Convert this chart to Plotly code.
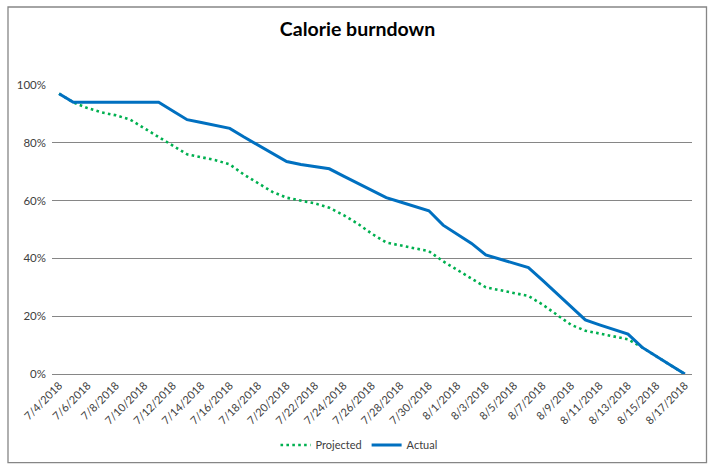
import plotly.graph_objects as go

dates = [
    "7/4/2018", "7/5/2018", "7/6/2018", "7/7/2018", "7/8/2018", "7/9/2018",
    "7/10/2018", "7/11/2018", "7/12/2018", "7/13/2018", "7/14/2018", "7/15/2018",
    "7/16/2018", "7/17/2018", "7/18/2018", "7/19/2018", "7/20/2018", "7/21/2018",
    "7/22/2018", "7/23/2018", "7/24/2018", "7/25/2018", "7/26/2018", "7/27/2018",
    "7/28/2018", "7/29/2018", "7/30/2018", "7/31/2018", "8/1/2018", "8/2/2018",
    "8/3/2018", "8/4/2018", "8/5/2018", "8/6/2018", "8/7/2018", "8/8/2018",
    "8/9/2018", "8/10/2018", "8/11/2018", "8/12/2018", "8/13/2018", "8/14/2018",
    "8/15/2018", "8/16/2018", "8/17/2018",
]

projected = [
    0.97, 0.94, 0.92, 0.905, 0.895, 0.88, 0.85, 0.82, 0.79, 0.76,
    0.75, 0.74, 0.725, 0.69, 0.66, 0.63, 0.61, 0.60, 0.59, 0.575,
    0.55, 0.52, 0.485, 0.455, 0.445, 0.435, 0.425, 0.39, 0.36, 0.33,
    0.30, 0.29, 0.28, 0.27, 0.24, 0.205, 0.17, 0.15, 0.14, 0.13,
    0.12, 0.092, 0.06, 0.03, 0.0,
]

actual = [
    0.97, 0.94, 0.94, 0.94, 0.94, 0.94, 0.94, 0.94, 0.91, 0.88,
    0.87, 0.86, 0.85, 0.82, 0.792, 0.763, 0.735, 0.725, 0.718, 0.71,
    0.685, 0.66, 0.635, 0.61, 0.595, 0.58, 0.565, 0.515, 0.483, 0.452,
    0.412, 0.397, 0.382, 0.368, 0.324, 0.278, 0.232, 0.187, 0.17, 0.155,
    0.138, 0.092, 0.06, 0.03, 0.0,
]

series_names = ["Projected", "Actual"]
tick_labels = dates[::2]

FONT = "Lato"

fig = go.Figure()
fig.add_trace(go.Scatter(
    x=dates, y=projected, name=series_names[0], mode="lines",
    line=dict(color="#00B050", width=2.6, dash="2.6px,3.3px"),
))
fig.add_trace(go.Scatter(
    x=dates, y=actual, name=series_names[1], mode="lines",
    line=dict(color="#0070C0", width=3),
))

fig.update_layout(
    width=720, height=474,
    margin=dict(l=52, r=28, t=85, b=100, autoexpand=False),
    paper_bgcolor="white", plot_bgcolor="white",
    font=dict(family=FONT, size=11, color="#595959"),
    title=dict(text="<b>Calorie burndown</b>", x=357.5 / 720, xref="container",
               xanchor="center", y=1 - 29 / 474, yref="container", yanchor="middle",
               font=dict(family=FONT, size=19.5, color="black")),
    xaxis=dict(
        type="category", range=[-0.5, len(dates) - 0.5],
        tickmode="array", tickvals=tick_labels, ticktext=tick_labels,
        tickangle=-45, showgrid=False, ticks="",
        showline=True, linecolor="#868686", linewidth=1,
        tickfont=dict(family=FONT, size=11, color="#404040"),
        fixedrange=True,
    ),
    yaxis=dict(
        range=[0, 1], tickvals=[0, 0.2, 0.4, 0.6, 0.8, 1.0], tickformat=".0%",
        showgrid=True, gridcolor="#868686", gridwidth=1, zeroline=False,
        showline=False, ticks="", ticklen=0, ticklabelstandoff=5,
        tickfont=dict(family=FONT, size=11.5, color="#404040"),
        fixedrange=True,
    ),
    legend=dict(orientation="h", xref="container", yref="container",
                x=359 / 720, xanchor="center", y=(474 - 445) / 474, yanchor="middle",
                font=dict(family=FONT, size=11, color="#404040"),
                itemwidth=30, tracegroupgap=0),
    showlegend=True,
    shapes=[dict(type="rect", xref="paper", yref="paper",
                 x0=(8 - 52) / 640, x1=(706.5 - 52) / 640,
                 y0=(374 - 462.7) / 289, y1=(374 - 7) / 289,
                 line=dict(color="#868686", width=1.3), fillcolor="rgba(0,0,0,0)",
                 layer="below")],
)

fig.write_html(
    "out.html",
    config={"displayModeBar": False, "staticPlot": True},
    post_script="document.body.style.margin='0';document.body.style.overflow='hidden';",
)
